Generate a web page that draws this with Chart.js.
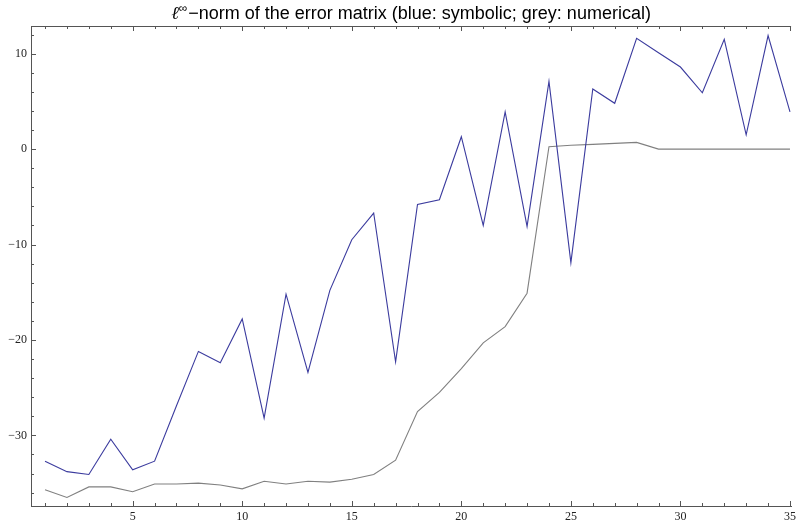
<!DOCTYPE html>
<html>
<head>
<meta charset="utf-8">
<script src="https://cdn.jsdelivr.net/npm/chart.js@4.4.1/dist/chart.umd.min.js"></script>
<style>
  html, body { margin: 0; padding: 0; background: #fff; }
  #wrap { width: 800px; height: 525px; }
</style>
</head>
<body>
<div id="wrap"><canvas id="chart" width="800" height="525"></canvas></div>
<script>
// matrix size n = 1..35
const sizes = [1, 2, 3, 4, 5, 6, 7, 8, 9, 10, 11, 12, 13, 14, 15, 16, 17, 18,
    19, 20, 21, 22, 23, 24, 25, 26, 27, 28, 29, 30, 31, 32, 33, 34, 35];

// log10 of the l-infinity norm of the error (blue)
const symbolic = [-32.7, -33.8, -34.1, -30.4, -33.6, -32.7, -26.9, -21.2, -22.4, -17.8,
    -28.2, -15.2, -23.4, -14.8, -9.5, -6.7, -22.3, -5.8, -5.3, 1.3,
    -8.0, 3.9, -8.1, 7.1, -11.9, 6.3, 4.8, 11.6, 10.1, 8.6,
    5.9, 11.5, 1.5, 11.9, 3.9];

// grey
const numerical = [-35.7, -36.5, -35.4, -35.4, -35.9, -35.1, -35.1, -35.0, -35.2, -35.6,
    -34.8, -35.1, -34.8, -34.9, -34.6, -34.1, -32.6, -27.5, -25.5, -23.0,
    -20.3, -18.6, -15.1, 0.25, 0.4, 0.5, 0.6, 0.7, 0, 0,
    0, 0, 0, 0, 0];

const xTicks = [5, 10, 15, 20, 25, 30, 35];
const yTicks = [-30, -20, -10, 0, 10];

const frameColor = '#555555';

// Mathematica-style frame: inward ticks on left, bottom and top
const frameTicks = {
    id: 'frameTicks',
    afterDraw(chart) {
        const ctx = chart.ctx;
        const x = chart.scales.x;
        const y = chart.scales.y;
        const area = chart.chartArea;
        ctx.save();
        ctx.strokeStyle = frameColor;
        ctx.lineWidth = 1;
        ctx.beginPath();
        // top edge
        ctx.moveTo(area.left, area.top + 0.5);
        ctx.lineTo(area.right, area.top + 0.5);
        for (let v = 1; v <= 35; v++) {
            const px = Math.round(x.getPixelForValue(v)) + 0.5;
            const len = v % 5 === 0 ? 5 : 3;
            ctx.moveTo(px, area.bottom);
            ctx.lineTo(px, area.bottom - len);
            ctx.moveTo(px, area.top);
            ctx.lineTo(px, area.top + len);
        }
        for (let v = -36; v <= 12; v += 2) {
            const py = Math.round(y.getPixelForValue(v)) + 0.5;
            const len = v % 10 === 0 ? 5 : 3;
            ctx.moveTo(area.left, py);
            ctx.lineTo(area.left + len, py);
        }
        ctx.stroke();
        ctx.restore();
    }
};

// title with italic l and superscript infinity
const plotLabel = {
    id: 'plotLabel',
    afterDraw(chart) {
        const ctx = chart.ctx;
        const area = chart.chartArea;
        const rest = '\u2212norm of the error matrix (blue: symbolic; grey: numerical)';
        ctx.save();
        ctx.fillStyle = '#000';
        ctx.textBaseline = 'alphabetic';
        ctx.font = 'italic 18px "Liberation Serif", serif';
        const wL = ctx.measureText('\u2113').width;
        ctx.font = '12px "Liberation Sans", sans-serif';
        const wInf = ctx.measureText('\u221E').width;
        ctx.font = '18px "Liberation Sans", Arial, sans-serif';
        const wRest = ctx.measureText(rest).width;
        const total = wL + wInf + 1 + wRest;
        let cx = (area.left + area.right) / 2 - total / 2;
        const base = 19;
        ctx.font = 'italic 18px "Liberation Serif", serif';
        ctx.fillText('\u2113', cx, base);
        cx += wL;
        ctx.font = '12px "Liberation Sans", sans-serif';
        ctx.fillText('\u221E', cx, base - 7);
        cx += wInf + 1;
        ctx.font = '18px "Liberation Sans", Arial, sans-serif';
        ctx.fillText(rest, cx, base);
        ctx.restore();
    }
};

const ctx = document.getElementById('chart').getContext('2d');
const chart = new Chart(ctx, {
    type: 'line',
    data: {
        datasets: [
            {
                label: 'symbolic',
                data: sizes.map((n, i) => ({ x: n, y: symbolic[i] })),
                borderColor: '#3b3b9e',
                borderWidth: 1.1,
                pointRadius: 0,
                tension: 0
            },
            {
                label: 'numerical',
                data: sizes.map((n, i) => ({ x: n, y: numerical[i] })),
                borderColor: '#808080',
                borderWidth: 1.1,
                pointRadius: 0,
                tension: 0
            }
        ]
    },
    options: {
        responsive: false,
        animation: false,
        layout: { padding: { top: 26, right: 8, left: 0, bottom: 0 } },
        plugins: {
            legend: { display: false },
            tooltip: { enabled: false },
            title: { display: false }
        },
        scales: {
            x: {
                type: 'linear',
                min: 0.36,
                max: 35.05,
                afterBuildTicks: scale => {
                    scale.ticks = xTicks.map(v => ({ value: v }));
                },
                afterFit: scale => { scale.height = 19; },
                grid: { display: false, drawTicks: false },
                border: { display: true, color: frameColor, width: 1 },
                ticks: {
                    padding: 4,
                    maxRotation: 0,
                    color: '#222',
                    font: { family: '"Liberation Serif", serif', size: 12 }
                }
            },
            y: {
                min: -37.4,
                max: 12.9,
                afterBuildTicks: scale => {
                    scale.ticks = yTicks.map(v => ({ value: v }));
                },
                afterFit: scale => { scale.width = 31; },
                grid: { display: false, drawTicks: false },
                border: { display: true, color: frameColor, width: 1 },
                ticks: {
                    padding: 4,
                    color: '#222',
                    font: { family: '"Liberation Serif", serif', size: 12 },
                    callback: v => String(v).replace('-', '\u2212')
                }
            }
        }
    },
    plugins: [frameTicks, plotLabel]
});
</script>
</body>
</html>
